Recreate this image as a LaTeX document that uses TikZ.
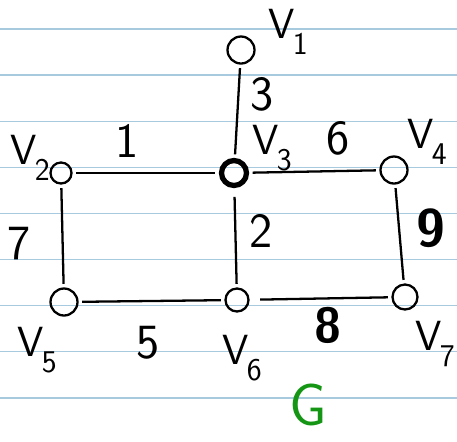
\documentclass[tikz,border=0pt]{standalone}
\usepackage{xcolor}
\usetikzlibrary{positioning}
\definecolor{ruleblue}{RGB}{168,202,222}
\definecolor{penGreen}{RGB}{20,150,20}
\newcommand\vname[1]{V\kern-1pt\raisebox{-0.9ex}{\fontsize{18}{20}\selectfont#1}}
\tikzset{
  vert/.style={draw, circle, line width=1.3pt, minimum size=5.4mm, inner sep=0pt},
  hub/.style={vert, line width=3pt, minimum size=5mm},
  edge/.style={line width=1.3pt, shorten <=2pt, shorten >=2pt},
  wt/.style={font=\sffamily\fontsize{28}{30}\selectfont, inner sep=0pt},
  vlab/.style={font=\sffamily\fontsize{24}{26}\selectfont, inner sep=0pt},
  paper/.style={draw=ruleblue, line width=0.8pt},
}
\begin{document}
\begin{tikzpicture}[x=0.02cm, y=-0.02cm]
\useasboundingbox[fill=white] (0,0) rectangle (457,441);
% ruled paper
\foreach \k in {0,...,8}
  \draw[paper] (0,29+46.1*\k) -- (457,29+46.1*\k);
% vertices
\node[vert] (v1) at (241,50) {};
\node[vert, minimum size=4.2mm] (v2) at (61,173) {};
\node[hub] (v3) at (234,173) {};
\node[vert] (v4) at (394,170) {};
\node[vert] (v5) at (64,302) {};
\node[vert, minimum size=4.6mm] (v6) at (237,300) {};
\node[vert, minimum size=5mm] (v7) at (405,297) {};
% vertex names
\node[vlab] (n1) at (288,32) {\vname{1}};
\node[vlab] (n2) at (30,158) {\vname{2}};
\node[vlab] (n3) at (272,148) {\vname{3}};
\node[vlab] (n4) at (427,142) {\vname{4}};
\node[vlab] (n5) at (37,350) {\vname{5}};
\node[vlab] (n6) at (242,358) {\vname{6}};
\node[vlab] (n7) at (435,344) {\vname{7}};
% edges
\draw[edge] (v1) -- (v3);
\draw[edge] (v2) -- (v3);
\draw[edge] (v3) -- (v4);
\draw[edge] (v2) -- (v5);
\draw[edge, shorten <=5pt] (v3) -- (v6);
\draw[edge] (v4) -- (v7);
\draw[edge] (v5) -- (v6);
\draw[edge, shorten <=6pt] (v6) -- (v7);
% weights
\node[wt] (w13) at (262,94) {3};
\node[wt] (w23) at (127,141) {1};
\node[wt] (w34) at (338,138) {6};
\node[wt] (w25) at (19,244) {7};
\node[wt] (w36) at (261,231) {2};
\node[wt, font=\sffamily\bfseries\fontsize{30}{32}\selectfont] (w47) at (431,228) {9};
\node[wt] (w56) at (148,343) {5};
\node[wt, font=\sffamily\bfseries\fontsize{28}{30}\selectfont] (w67) at (328,325) {8};
% graph name
\node[wt, text=penGreen, font=\sffamily\fontsize{34}{36}\selectfont] (g) at (308,405) {G};
\end{tikzpicture}
\end{document}
